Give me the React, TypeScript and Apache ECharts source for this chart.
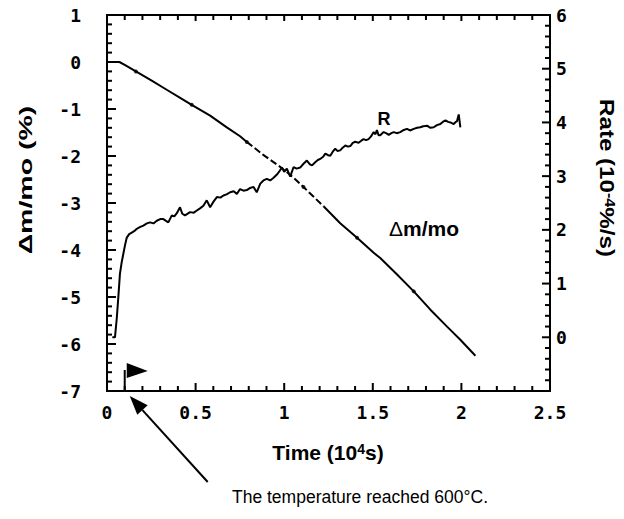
import React, { useEffect, useRef } from "react";
import * as echarts from "echarts";

// Time axis (10^4 s)
const xMin = 0;
const xMax = 2.5;
const xStep = 0.5;
const xMinorStep = 0.1;
// Left axis: Δm/mo (%)
const leftMin = -7;
const leftMax = 1;
const leftMinorStep = 0.2;
// Right axis: Rate (10^-4 %/s)
const rightMin = -1;
const rightMax = 6;
const rightMinorStep = 0.2;

// Δm/mo (%) vs time (10^4 s)
const massLoss: [number, number][] = [
  [0, 0], [0.07, 0], [0.1, -0.06], [0.163, -0.2], [0.25, -0.39], [0.337, -0.59],
  [0.42, -0.78], [0.478, -0.91], [0.582, -1.14], [0.676, -1.39], [0.751, -1.58],
  [0.789, -1.7], [0.88, -1.97], [0.977, -2.23], [1.05, -2.45], [1.109, -2.66],
  [1.222, -3.07], [1.316, -3.43], [1.411, -3.74], [1.505, -4.06], [1.542, -4.17],
  [1.637, -4.52], [1.731, -4.88], [1.825, -5.27], [1.919, -5.63], [1.994, -5.91],
  [2.079, -6.25],
];
// broken (dashed-looking) stretch of the Δm/mo trace
const massDashStart = 0.789;
const massDashEnd = 1.222;
// small dots printed on the Δm/mo trace
const massDots: [number, number][] = [
  [0.163, -0.2], [0.478, -0.91], [0.789, -1.7], [1.109, -2.66], [1.411, -3.74], [1.731, -4.88],
];

// Rate R (10^-4 %/s) vs time (10^4 s)
const rate: [number, number][] = [
  [0.03, 0], [0.045, 0], [0.055, 0.35], [0.064, 0.75], [0.073, 1.18], [0.083, 1.4],
  [0.092, 1.55], [0.102, 1.72], [0.111, 1.85], [0.125, 1.92], [0.14, 1.95], [0.155, 1.98],
  [0.168, 2.02], [0.185, 2.05], [0.205, 2.08], [0.225, 2.12], [0.243, 2.14], [0.262, 2.12],
  [0.281, 2.17], [0.3, 2.2], [0.318, 2.2], [0.346, 2.14], [0.366, 2.27], [0.38, 2.25],
  [0.394, 2.31], [0.412, 2.42], [0.425, 2.3], [0.44, 2.27], [0.469, 2.33], [0.49, 2.32],
  [0.507, 2.36], [0.525, 2.4], [0.544, 2.45], [0.563, 2.55], [0.582, 2.42], [0.6, 2.52],
  [0.62, 2.61], [0.64, 2.6], [0.657, 2.64], [0.675, 2.66], [0.695, 2.7], [0.715, 2.72],
  [0.733, 2.67], [0.751, 2.76], [0.77, 2.73], [0.789, 2.74], [0.808, 2.78], [0.827, 2.8],
  [0.845, 2.7], [0.865, 2.86], [0.883, 2.92], [0.902, 2.95], [0.921, 2.92], [0.94, 2.97],
  [0.959, 3.03], [0.975, 3.1], [0.987, 3.16], [1.0, 3.08], [1.015, 3.14], [1.034, 2.99],
  [1.053, 3.17], [1.07, 3.14], [1.09, 3.16], [1.109, 3.23], [1.128, 3.29], [1.145, 3.22],
  [1.157, 3.2], [1.175, 3.26], [1.19, 3.3], [1.203, 3.32], [1.22, 3.36], [1.232, 3.42],
  [1.248, 3.39], [1.26, 3.38], [1.275, 3.46], [1.288, 3.51], [1.3, 3.47], [1.316, 3.48],
  [1.33, 3.53], [1.345, 3.57], [1.36, 3.55], [1.373, 3.56], [1.387, 3.62], [1.401, 3.64],
  [1.42, 3.62], [1.435, 3.66], [1.448, 3.69], [1.462, 3.67], [1.476, 3.69], [1.49, 3.74],
  [1.505, 3.82], [1.515, 3.78], [1.523, 3.86], [1.533, 3.76], [1.542, 3.76], [1.561, 3.82],
  [1.575, 3.8], [1.59, 3.77], [1.605, 3.8], [1.618, 3.82], [1.635, 3.8], [1.655, 3.82],
  [1.675, 3.86], [1.693, 3.88], [1.71, 3.85], [1.731, 3.88], [1.75, 3.9], [1.768, 3.91],
  [1.785, 3.93], [1.806, 3.94], [1.825, 3.9], [1.844, 3.91], [1.862, 3.95], [1.881, 3.97],
  [1.895, 4.01], [1.91, 4.04], [1.925, 4.01], [1.938, 4.0], [1.957, 3.97], [1.968, 4.01],
  [1.975, 4.02], [1.985, 4.15], [1.994, 3.91],
];

// time at which 600 °C was reached (flag)
const flagTime = 0.1;

const TICK_FONT = '"DejaVu Sans Mono", monospace';
const SANS = '"Liberation Sans", Arial, Helvetica, sans-serif';

function stepsBetween(min: number, max: number, step: number): number[] {
  const out: number[] = [];
  const n = Math.round((max - min) / step);
  for (let i = 0; i <= n; i++) out.push(Number((min + i * step).toFixed(4)));
  return out;
}
function isMajor(v: number, step: number): boolean {
  const r = v / step;
  return Math.abs(r - Math.round(r)) < 1e-6;
}

export default function App() {
  const ref = useRef<HTMLDivElement>(null);

  useEffect(() => {
    if (!ref.current) return;
    const chart = echarts.init(ref.current, undefined, { renderer: "svg" });

    const black = "#000";
    const axisLine = { show: true, onZero: false, lineStyle: { color: black, width: 2 } };
    const tickLabel = {
      show: true,
      fontFamily: TICK_FONT,
      fontWeight: "bold" as const,
      fontSize: 18,
      color: black,
    };
    const noTicks = { show: false };

    const solidA = massLoss.filter((p) => p[0] <= massDashStart);
    const dashed = massLoss.filter((p) => p[0] >= massDashStart && p[0] <= massDashEnd);
    const solidB = massLoss.filter((p) => p[0] >= massDashEnd);

    const lineCommon = {
      type: "line" as const,
      showSymbol: false,
      symbol: "none",
      smooth: false,
      silent: true,
    };

    chart.setOption({
      animation: false,
      backgroundColor: "#fff",
      grid: {
        left: 107,
        right: 74,
        top: 15,
        bottom: 128,
        containLabel: false,
        show: true,
        borderColor: black,
        borderWidth: 2,
        backgroundColor: "transparent",
      },
      xAxis: [
        {
          type: "value",
          position: "bottom",
          min: xMin,
          max: xMax,
          interval: xStep,
          axisLine,
          axisTick: noTicks,
          minorTick: noTicks,
          splitLine: { show: false },
          minorSplitLine: { show: false },
          axisLabel: {
            ...tickLabel,
            margin: 12,
            formatter: (v: number) => String(Number(v.toFixed(1))),
          },
        },
        {
          type: "value",
          position: "top",
          min: xMin,
          max: xMax,
          interval: xStep,
          axisLine,
          axisTick: noTicks,
          minorTick: noTicks,
          splitLine: { show: false },
          minorSplitLine: { show: false },
          axisLabel: { show: false },
        },
      ],
      yAxis: [
        {
          type: "value",
          position: "left",
          min: leftMin,
          max: leftMax,
          interval: 1,
          axisLine,
          axisTick: noTicks,
          minorTick: noTicks,
          splitLine: { show: false },
          minorSplitLine: { show: false },
          axisLabel: { ...tickLabel, margin: 26, formatter: (v: number) => String(v) },
        },
        {
          type: "value",
          position: "right",
          min: rightMin,
          max: rightMax,
          interval: 1,
          axisLine,
          axisTick: noTicks,
          minorTick: noTicks,
          splitLine: { show: false },
          minorSplitLine: { show: false },
          axisLabel: {
            ...tickLabel,
            margin: 6,
            formatter: (v: number) => (v < 0 ? "" : String(v)),
          },
        },
      ],
      series: [
        { ...lineCommon, name: "Δm/mo", xAxisIndex: 0, yAxisIndex: 0, data: solidA, lineStyle: { color: black, width: 2 } },
        { ...lineCommon, name: "Δm/mo dashed", xAxisIndex: 0, yAxisIndex: 0, data: dashed, lineStyle: { color: black, width: 2, type: [7, 3] } },
        { ...lineCommon, name: "Δm/mo end", xAxisIndex: 0, yAxisIndex: 0, data: solidB, lineStyle: { color: black, width: 2 } },
        {
          type: "scatter",
          name: "dots",
          xAxisIndex: 0,
          yAxisIndex: 0,
          data: massDots,
          symbol: "circle",
          symbolSize: 4,
          itemStyle: { color: black },
          silent: true,
        },
        { ...lineCommon, name: "R", xAxisIndex: 1, yAxisIndex: 1, data: rate, lineStyle: { color: black, width: 2 } },
      ],
    });

    // ---- tick marks, placed through the axes' own scales ----
    const toLeft = (x: number, y: number) =>
      chart.convertToPixel({ xAxisIndex: 0, yAxisIndex: 0 }, [x, y]) as number[];
    const toRight = (x: number, y: number) =>
      chart.convertToPixel({ xAxisIndex: 0, yAxisIndex: 1 }, [x, y]) as number[];
    const tickEls: any[] = [];
    const addTick = (p: number[], dx: number, dy: number) => {
      tickEls.push({
        type: "line",
        silent: true,
        shape: { x1: p[0], y1: p[1], x2: p[0] + dx, y2: p[1] + dy },
        style: { stroke: black, lineWidth: 2 },
      });
    };
    stepsBetween(xMin, xMax, xMinorStep).forEach((t) => {
      const big = isMajor(t, xStep);
      addTick(toLeft(t, leftMin), 0, big ? -8 : -5);
      addTick(toLeft(t, leftMax), 0, big ? 6 : 5);
    });
    stepsBetween(leftMin, leftMax, leftMinorStep).forEach((v) => {
      addTick(toLeft(xMin, v), isMajor(v, 1) ? 9 : 5, 0);
    });
    stepsBetween(rightMin, rightMax, rightMinorStep).forEach((v) => {
      addTick(toRight(xMax, v), isMajor(v, 1) ? -8 : -5, 0);
    });

    const base = toLeft(flagTime, leftMin);
    const fx = base[0];
    const fy = base[1];

    // arrow pointing to the flag foot
    const tip = [fx + 5, fy + 5];
    const tail = [fx + 83, fy + 91];
    const dx = tip[0] - tail[0];
    const dy = tip[1] - tail[1];
    const len = Math.sqrt(dx * dx + dy * dy);
    const ux = dx / len;
    const uy = dy / len;
    const headLen = 19;
    const headHalf = 7;
    const bx = tip[0] - headLen * ux;
    const by = tip[1] - headLen * uy;
    const nx = -uy;
    const ny = ux;

    chart.setOption({
      graphic: [
        ...tickEls,
        {
          type: "line",
          shape: { x1: fx, y1: fy, x2: fx, y2: fy - 21 },
          style: { stroke: black, lineWidth: 2 },
        },
        {
          type: "polygon",
          shape: { points: [[fx + 2, fy - 28], [fx + 23, fy - 20], [fx + 2, fy - 13]] },
          style: { fill: black },
        },
        {
          type: "line",
          shape: { x1: tail[0], y1: tail[1], x2: bx, y2: by },
          style: { stroke: black, lineWidth: 2 },
        },
        {
          type: "polygon",
          shape: {
            points: [
              [tip[0], tip[1]],
              [bx + headHalf * nx, by + headHalf * ny],
              [bx - headHalf * nx, by - headHalf * ny],
            ],
          },
          style: { fill: black },
        },
        {
          type: "text",
          x: 25,
          y: 180,
          rotation: Math.PI / 2,
          scaleX: 1.5,
          style: {
            text: "Δm/mo (%)",
            font: `bold 19px ${SANS}`,
            fill: black,
            align: "center",
            verticalAlign: "middle",
          },
        },
        {
          type: "text",
          x: 607,
          y: 178,
          rotation: -Math.PI / 2,
          scaleX: 1.15,
          style: {
            text: "{b|Rate (10}{s|-4}{b|%/s)}",
            fill: black,
            align: "center",
            verticalAlign: "middle",
            rich: {
              b: { font: `bold 21px ${SANS}`, fill: black },
              s: { font: `bold 14px ${SANS}`, fill: black, verticalAlign: "top" },
            },
          },
        },
        {
          type: "text",
          x: 328,
          y: 452,
          style: {
            text: "{b|Time (10}{s|4}{b|s)}",
            fill: black,
            align: "center",
            verticalAlign: "middle",
            rich: {
              b: { font: `bold 21px ${SANS}`, fill: black },
              s: { font: `bold 14px ${SANS}`, fill: black, verticalAlign: "top" },
            },
          },
        },
        {
          type: "text",
          x: 384,
          y: 119,
          style: {
            text: "R",
            font: `bold 18px ${SANS}`,
            fill: black,
            align: "center",
            verticalAlign: "middle",
          },
        },
        {
          type: "text",
          x: 424,
          y: 228,
          style: {
            text: "{n|Δ}{b|m/mo}",
            fill: black,
            align: "center",
            verticalAlign: "middle",
            rich: {
              n: { font: `21px ${SANS}`, fill: black },
              b: { font: `bold 21px ${SANS}`, fill: black },
            },
          },
        },
        {
          type: "text",
          x: 360,
          y: 497,
          style: {
            text: "The temperature reached 600°C.",
            font: `17.5px ${SANS}`,
            fill: black,
            align: "center",
            verticalAlign: "middle",
          },
        },
      ],
    });

    return () => chart.dispose();
  }, []);

  return (
    <div
      ref={ref}
      style={{ position: "fixed", left: 0, top: 0, width: 624, height: 519, background: "#fff" }}
    />
  );
}
